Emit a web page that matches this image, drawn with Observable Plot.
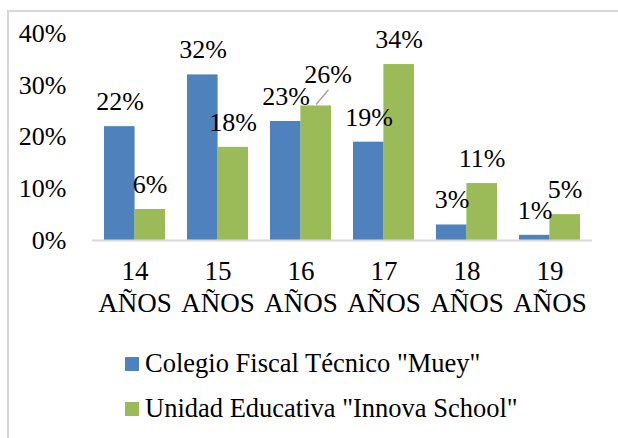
<!DOCTYPE html>
<html>
<head>
<meta charset="utf-8">
<style>
  html, body { margin: 0; padding: 0; background: #fff; overflow: hidden; width: 618px; height: 438px; }
  body::before { content: "AÑOS 0123456789% Colegio Fiscal Técnico Muey Unidad Educativa Innova School"; font-family: serif; font-size: 26px; position: absolute; left: -3000px; top: 0; white-space: nowrap; }
  body::after { content: "AÑOS 0123456789% Colegio Fiscal Técnico Muey Unidad Educativa Innova School"; font-family: 'Liberation Serif'; font-size: 26px; position: absolute; left: -3000px; top: 40px; white-space: nowrap; }
  #wrap { position: relative; width: 618px; height: 438px; font-family: serif; }
  #border { position: absolute; left: 7px; top: 10px; width: 700px; height: 600px; border: 2px solid #d9d9d9; box-sizing: border-box; }
  #chart { position: absolute; left: 0; top: 0; }
  #legend { position: absolute; left: 125px; top: 341px; font-family: serif; font-size: 26.5px; }
  .item { display: flex; align-items: center; height: 45px; color: #000; }
  .sw { width: 14px; height: 14px; margin-right: 6px; }
</style>
</head>
<body>
<div id="wrap">
  <div id="border"></div>
  <div id="chart"></div>
  <div id="legend"></div>
</div>
<script src="https://cdn.jsdelivr.net/npm/d3@7"></script>
<script src="https://cdn.jsdelivr.net/npm/@observablehq/plot@0.6"></script>
<script>
const ages = ["14", "15", "16", "17", "18", "19"];
const tickLabels = ["14\nAÑOS", "15\nAÑOS", "16\nAÑOS", "17\nAÑOS", "18\nAÑOS", "19\nAÑOS"];
const seriesNames = ['Colegio Fiscal Técnico "Muey"', 'Unidad Educativa "Innova School"'];
const seriesColors = ["#4F81BD", "#9BBB59"];
const muey = [22, 32, 23, 19, 3, 1];
const innova = [6, 18, 26, 34, 11, 5];
const yTicks = [0, 10, 20, 30, 40];

const dataMuey = ages.map((a, i) => ({age: a, value: muey[i]}));
const dataInnova = ages.map((a, i) => ({age: a, value: innova[i]}));
const labelMap = Object.fromEntries(ages.map((a, i) => [a, tickLabels[i]]));

const leader = {draw(ctx, l) { ctx.moveTo(0, 0); ctx.lineTo(0, -l); }};

const chart = Plot.plot({
  width: 618,
  height: 330,
  marginLeft: 92,
  marginRight: 26,
  marginTop: 33,
  marginBottom: 90,
  style: {fontFamily: "serif", fontSize: "26px", color: "#000", background: "transparent"},
  x: {domain: ages, paddingInner: 0.27, paddingOuter: 0.135},
  y: {domain: [0, 40]},
  marks: [
    Plot.barY(dataMuey, {x: "age", y: "value", fill: seriesColors[0], insetRight: 30.4}),
    Plot.barY(dataInnova, {x: "age", y: "value", fill: seriesColors[1], insetLeft: 30.4}),
    Plot.ruleY([0], {stroke: "#d9d9d9", strokeWidth: 2}),
    Plot.text(dataMuey, {x: "age", y: "value", text: d => d.value + "%", dx: -15, dy: -25, fill: "#000"}),
    Plot.text(dataInnova.filter(d => d.age !== "16"), {x: "age", y: "value", text: d => d.value + "%", dx: 15, dy: -25, fill: "#000"}),
    Plot.text(dataInnova.filter(d => d.age === "16"), {x: "age", y: "value", text: d => d.value + "%", dx: 27, dy: -31, fill: "#000"}),
    Plot.vector(dataInnova.filter(d => d.age === "16"), {x: "age", y: "value", dx: 15.5, dy: -2, length: 18, rotate: 40, anchor: "start", shape: leader, stroke: "#a6a6a6", strokeWidth: 1.5}),
    Plot.axisY({ticks: yTicks, tickFormat: d => d + "%", tickSize: 0, tickPadding: 26, label: null}),
    Plot.axisX({tickSize: 0, tickPadding: 16, tickFormat: d => labelMap[d], lineHeight: 1.2, label: null, fontSize: 27})
  ]
});
document.getElementById("chart").appendChild(chart);

const legend = document.getElementById("legend");
seriesNames.forEach((name, i) => {
  const item = document.createElement("div");
  item.className = "item";
  const sw = document.createElement("div");
  sw.className = "sw";
  sw.style.background = seriesColors[i];
  const t = document.createElement("span");
  t.style.fontFamily = "serif";
  t.textContent = name;
  item.appendChild(sw);
  item.appendChild(t);
  legend.appendChild(item);
});
</script>
</body>
</html>
